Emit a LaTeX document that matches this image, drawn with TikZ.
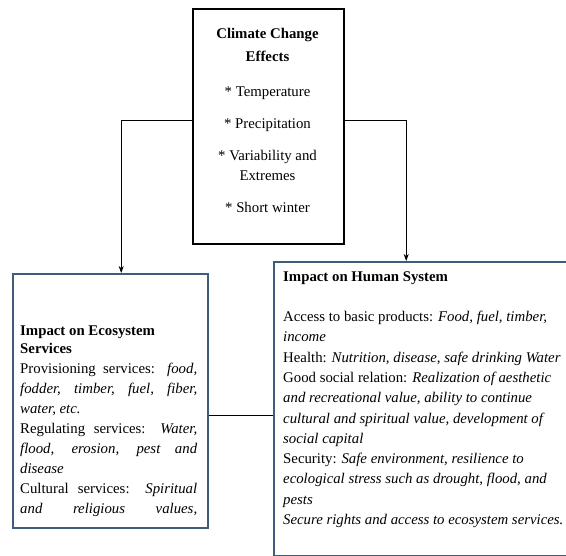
\documentclass[tikz,border=0pt]{standalone}
\usepackage{fontspec}
\setmainfont{Liberation Serif}
\usetikzlibrary{arrows.meta}
\definecolor{boxblue}{HTML}{3F5B7D}
\begin{document}
\begin{tikzpicture}[x=1pt,y=-1pt,
    effectbox/.style={draw=black, line width=2pt, anchor=north west, inner sep=0pt,
      minimum width=151pt, minimum height=235pt},
    impactbox/.style={draw=boxblue, line width=2.4pt, anchor=north west, inner sep=0pt},
    bodytext/.style={font=\fontsize{14.8}{20.3}\selectfont, inner sep=0pt, anchor=north west},
    link/.style={black, line width=0.8pt, -{Stealth[length=7pt,width=5pt]}},
    plainlink/.style={black, line width=0.8pt}]
  \useasboundingbox (0,0) rectangle (566,556);
  % boxes
  \node[effectbox] (effects) at (192,8) {};
  \node[impactbox, minimum width=195pt, minimum height=254pt] (eco) at (12,273) {};
  \node[impactbox, minimum width=310pt, minimum height=294pt] (human) at (273,261) {};
  % texts
  \node[bodytext, anchor=north, align=center] (effecttext) at (267.5,28)
    {\textbf{Climate Change}\\[3pt]\textbf{Effects}\\[14pt]
     * Temperature\\[12pt]
     * Precipitation\\[12pt]
     * Variability and\\ Extremes\\[11pt]
     * Short winter};
  \node[bodytext, font=\fontsize{14.8}{20}\selectfont, text width=177pt, align=justify] (ecotext) at (20,326)
    {\textbf{Impact on Ecosystem}\\[-2pt]\textbf{Services}\\
     Provisioning services: \textit{food,}\linebreak
     \textit{fodder, timber, fuel, fiber,}\linebreak
     \textit{water, etc.}\\
     Regulating services: \textit{Water,}\linebreak
     \textit{flood, erosion, pest and}\linebreak
     \textit{disease}\\
     Cultural services: \textit{Spiritual}\linebreak
     \hbox to\hsize{\textit{and}\hfill\textit{religious}\hfill\textit{values,}}};
  \node[bodytext, align=left] (humantext) at (283,271)
    {\textbf{Impact on Human System}\\[20.3pt]
     Access to basic products: \textit{Food, fuel, timber,}\\
     \textit{income}\\
     Health: \textit{Nutrition, disease, safe drinking Water}\\
     Good social relation: \textit{Realization of aesthetic}\\
     \textit{and recreational value, ability to continue}\\
     \textit{cultural and spiritual value, development of}\\
     \textit{social capital}\\
     Security: \textit{Safe environment, resilience to}\\
     \textit{ecological stress such as drought, flood, and}\\
     \textit{pests}\\
     \textit{Secure rights and access to ecosystem services.}};
  % connectors
  \draw[link] ([yshift=6.5pt]effects.west) -| ([xshift=10.5pt]eco.north);
  \draw[link] ([yshift=6.5pt]effects.east) -| ([xshift=-23pt]human.north);
  \draw[plainlink] (eco.east |- 0,415) -- (human.west |- 0,415);
\end{tikzpicture}
\end{document}
